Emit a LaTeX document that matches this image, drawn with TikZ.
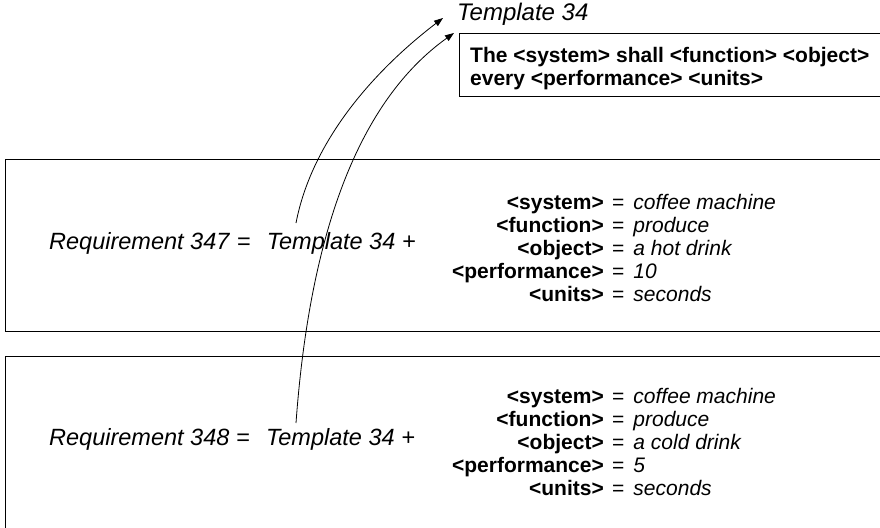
\documentclass[tikz,border=0pt]{standalone}
\usepackage{fontspec}
\setmainfont{Liberation Sans}
\usetikzlibrary{arrows.meta}
\begin{document}
\begin{tikzpicture}[x=1pt,y=-1pt,
  box/.style={draw, line width=1pt, inner sep=0pt},
  reqtxt/.style={font=\fontsize{23.5}{28}\selectfont, anchor=base west, inner sep=0pt},
  lab/.style={font=\fontsize{21}{23}\selectfont\bfseries, anchor=base east, inner sep=0pt},
  val/.style={font=\fontsize{21}{23}\selectfont, anchor=base west, inner sep=0pt},
  link/.style={line width=0.8pt, -{Triangle[length=9pt,width=6.5pt]}}]
\useasboundingbox (0,0) rectangle (880,527);
\clip (0,0) rectangle (880,527);

% requirement boxes (extend beyond the picture edge)
\node[box, anchor=north west, minimum width=900pt, minimum height=172pt] (box347) at (5,159) {};
\node[box, anchor=north west, minimum width=900pt, minimum height=220pt] (box348) at (5,356) {};

% template
\node[reqtxt, font=\fontsize{24}{28}\selectfont] (thdr) at (457,21) {\itshape Template 34};
\node[box, anchor=north west, minimum width=440pt, minimum height=63pt] (tbox) at (459,33) {};
\node[anchor=north west, inner sep=0pt, align=left,
      font=\fontsize{21}{23}\selectfont\bfseries] (tmpltxt) at (470,47)
  {The <system> shall <function> <object>\\every <performance> <units>};

% requirement formulas
\node[reqtxt] (req347) at (49,249) {\textit{Requirement 347}\hspace{7pt}=\hspace{16pt}\textit{Template 34}\hspace{7pt}+};
\node[reqtxt] (req348) at (49,445) {\textit{Requirement 348}\hspace{7pt}=\hspace{16pt}\textit{Template 34}\hspace{7pt}+};

% parameter values
\foreach \y/\k/\v [count=\i] in {209/system/coffee machine, 232/function/produce, 255/object/a hot drink, 278/performance/10, 301/units/seconds}{
  \node[lab] (pa\i) at (604,\y) {<\k>};
  \node[val] (va\i) at (612,\y) {=\hspace{9pt}\textit{\v}};
}
\foreach \y/\k/\v [count=\i] in {403/system/coffee machine, 426/function/produce, 449/object/a cold drink, 472/performance/5, 495/units/seconds}{
  \node[lab] (pb\i) at (604,\y) {<\k>};
  \node[val] (vb\i) at (612,\y) {=\hspace{9pt}\textit{\v}};
}

% links
\coordinate (s1) at (296,223);
\coordinate (e1) at (443,18);
\coordinate (s2) at (296,423);
\coordinate (e2) at (454,33);
\draw[link] (s1) .. controls (312,140) and (375,70) .. (e1);
\draw[link] (s2) .. controls (310,230) and (360,100) .. (e2);
\end{tikzpicture}
\end{document}
